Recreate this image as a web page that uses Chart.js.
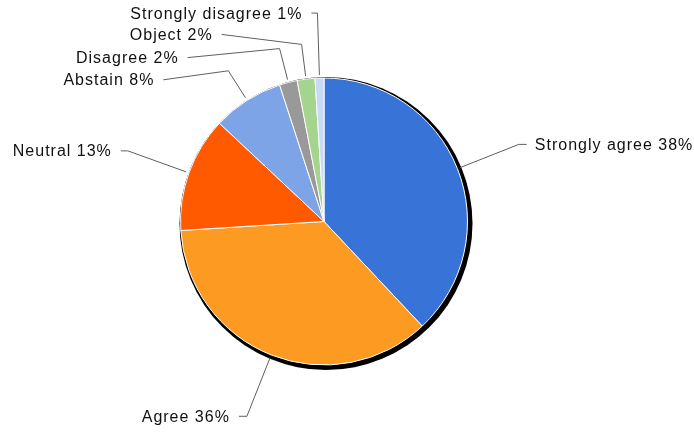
<!DOCTYPE html>
<html>
<head>
<meta charset="utf-8">
<script src="https://cdn.jsdelivr.net/npm/chart.js@4"></script>
<style>
  html, body { margin: 0; padding: 0; background: #fff; }
  #wrap { width: 694px; height: 434px; }
</style>
</head>
<body>
<div id="wrap"><canvas id="pieChart"></canvas></div>
<script>
const categories = ['Strongly agree', 'Agree', 'Neutral', 'Abstain', 'Disagree', 'Object', 'Strongly disagree'];
const shares = [38, 36, 13, 8, 2, 2, 1];
const colors = ['#3874d8', '#fd9a22', '#ff5a00', '#7ea4e8', '#999999', '#a5d48e', '#c8d9f5'];

// label layout: elbow distance beyond the rim, and where the leader ends relative to the elbow
const elbowOut = [66, 66, 65, 35, 35, 35, 65];
const leadDx = [8, -8, -7, -65, -92, -80, -6];
const leadDy = [0, 0, 0, 9, 9, -10, 0];

// black shadow disc behind the pie
const shadowPlugin = {
    id: 'shadow',
    beforeDatasetsDraw(chart) {
        const arc = chart.getDatasetMeta(0).data[0];
        if (!arc) return;
        const ctx = chart.ctx;
        ctx.save();
        ctx.fillStyle = '#000';
        ctx.beginPath();
        ctx.arc(arc.x + 2, arc.y + 2, arc.outerRadius + 3, 0, Math.PI * 2);
        ctx.fill();
        ctx.restore();
    }
};

// leader lines with text labels
const labelPlugin = {
    id: 'leaders',
    afterDatasetsDraw(chart) {
        const ctx = chart.ctx;
        const meta = chart.getDatasetMeta(0);
        ctx.save();
        ctx.font = '16px "Liberation Sans", Arial, sans-serif';
        ctx.letterSpacing = '1px';
        ctx.textBaseline = 'middle';
        meta.data.forEach((arc, i) => {
            const mid = (arc.startAngle + arc.endAngle) / 2;
            const r0 = arc.outerRadius + 3;
            const r1 = arc.outerRadius + elbowOut[i];
            const sx = arc.x + Math.cos(mid) * r0, sy = arc.y + Math.sin(mid) * r0;
            const ex = arc.x + Math.cos(mid) * r1, ey = arc.y + Math.sin(mid) * r1;
            const lx = ex + leadDx[i], ly = ey + leadDy[i];
            ctx.strokeStyle = '#5f5f5f';
            ctx.lineWidth = 1;
            ctx.beginPath();
            ctx.moveTo(sx, sy);
            ctx.lineTo(ex, ey);
            ctx.lineTo(lx, ly);
            ctx.stroke();
            const text = categories[i] + ' ' + shares[i] + '%';
            ctx.fillStyle = '#111';
            if (leadDx[i] > 0) {
                ctx.textAlign = 'left';
                ctx.fillText(text, lx + 8, ly + 1);
            } else {
                ctx.textAlign = 'right';
                ctx.fillText(text, lx - 9, ly + 1);
            }
        });
        ctx.restore();
    }
};

const ctx = document.getElementById('pieChart').getContext('2d');
const pieChart = new Chart(ctx, {
    type: 'pie',
    data: {
        labels: categories,
        datasets: [{
            data: shares,
            backgroundColor: colors,
            borderColor: '#ffffff',
            borderWidth: 1,
            hoverOffset: 0
        }]
    },
    options: {
        responsive: true,
        maintainAspectRatio: false,
        animation: false,
        events: [],
        layout: { padding: { left: 180, right: 226, top: 77, bottom: 68 } },
        plugins: {
            legend: { display: false },
            tooltip: { enabled: false }
        }
    },
    plugins: [shadowPlugin, labelPlugin]
});
</script>
</body>
</html>
